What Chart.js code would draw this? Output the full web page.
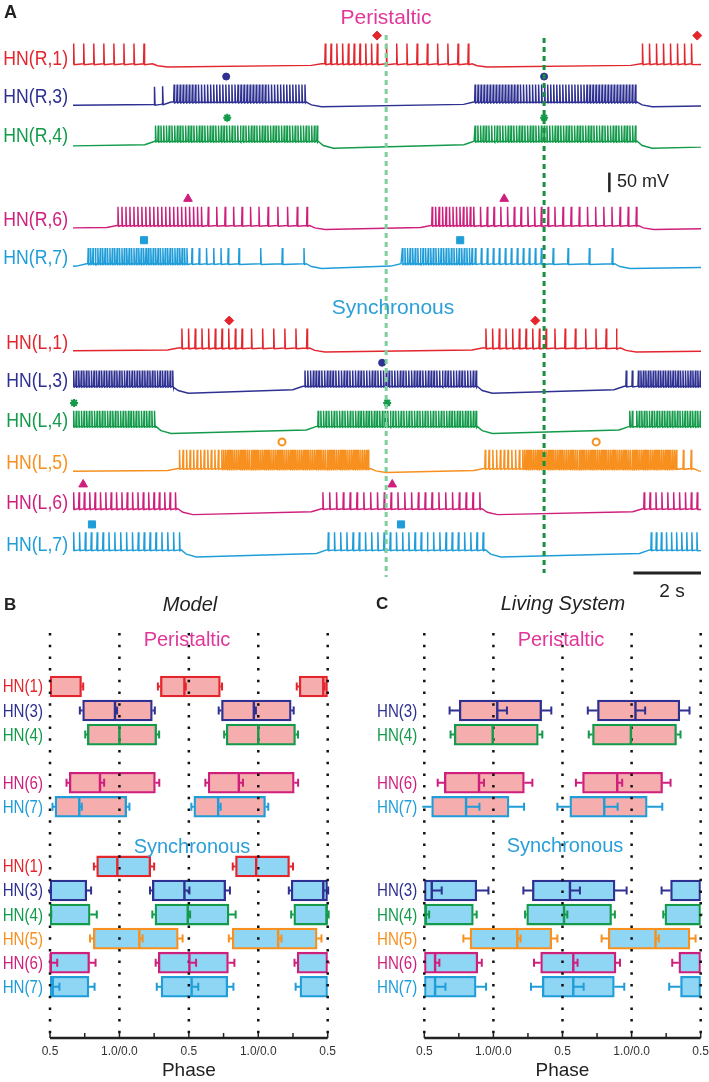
<!DOCTYPE html>
<html>
<head>
<meta charset="utf-8">
<script src="https://cdn.jsdelivr.net/npm/chart.js@4.4.1/dist/chart.umd.min.js"></script>
<style>
  body { margin: 0; background: #fff; width: 709px; height: 1082px; position: relative; overflow: hidden;
         font-family: "Liberation Sans", Arial, sans-serif; }
  canvas { position: absolute; }
  .t { position: absolute; white-space: nowrap; line-height: 1; transform: translate(-50%, -50%); }
  .l { position: absolute; white-space: nowrap; line-height: 1; transform: translateY(-50%); }
  .pink { color: #e2369a; }
  .blue { color: #2a9fd8; }
</style>
</head>
<body>
<canvas id="traces" width="709" height="600" style="left:0;top:0"></canvas>
<canvas id="model" width="355" height="482" style="left:0;top:600px"></canvas>
<canvas id="living" width="354" height="482" style="left:355px;top:600px"></canvas>

<div class="l" style="left:4px;top:12px;font-weight:bold;font-size:18px;color:#222">A</div>
<div class="t pink" style="left:386px;top:16px;font-size:21px">Peristaltic</div>
<div class="l" style="left:617px;top:181px;font-size:18px;color:#222">50 mV</div>
<div class="t blue" style="left:393px;top:306px;font-size:21px">Synchronous</div>
<div class="t" style="left:672px;top:590px;font-size:19px;color:#222">2 s</div>

<div class="l" style="left:4px;top:604px;font-weight:bold;font-size:17px;color:#222">B</div>
<div class="t" style="left:190px;top:604px;font-size:20px;font-style:italic;color:#222">Model</div>
<div class="t pink" style="left:187px;top:639px;font-size:20px">Peristaltic</div>
<div class="t blue" style="left:192px;top:846px;font-size:20px">Synchronous</div>

<div class="l" style="left:376px;top:603px;font-weight:bold;font-size:17px;color:#222">C</div>
<div class="t" style="left:563px;top:603px;font-size:20px;font-style:italic;color:#222">Living System</div>
<div class="t pink" style="left:561px;top:639px;font-size:20px">Peristaltic</div>
<div class="t blue" style="left:565px;top:845px;font-size:20px">Synchronous</div>

<script>
// ---- panel A: voltage traces (time in s, voltage in mV) ----
const T_END = 18.57;
const traceNames = ["HN(R,1)", "HN(R,3)", "HN(R,4)", "HN(R,6)", "HN(R,7)",
                    "HN(L,1)", "HN(L,3)", "HN(L,4)", "HN(L,5)", "HN(L,6)", "HN(L,7)"];
const traceAmp = [52, 45, 40, 48, 40, 50, 40, 40, 48, 42, 45];   // spike height above plateau
const traceDip = [8, 12, 18, 10, 12, 10, 18, 18, 10, 15, 18];     // interburst hyperpolarisation
// depolarised plateau windows [up, down]
const tracePlateaus = [
  [[-1, 2.35], [7.35, 11.8], [16.8, 20]],
  [[2.9, 6.9], [11.85, 16.68]],
  [[2.42, 7.25], [11.86, 16.68]],
  [[1.3, 7.0], [10.58, 16.72]],
  [[0.4, 6.9], [9.7, 16.02]],
  [[3.1, 7.0], [12.1, 16.2]],
  [[-1, 2.96], [6.8, 11.95], [16.3, 20]],
  [[-1, 2.45], [7.2, 11.95], [16.45, 20]],
  [[3.1, 8.8], [12.15, 18.35]],
  [[-1, 3.1], [7.35, 12.1], [16.85, 20]],
  [[-1, 3.2], [7.5, 12.2], [17.05, 20]]
];
// spike groups [first spike, last spike, count]
const traceSpikes = [
  [[0.02, 2.1, 8], [7.46, 9.0, 10], [9.27, 11.69, 9], [16.84, 18.29, 8]],
  [[2.41, 2.65, 2], [2.99, 6.86, 44], [11.89, 16.63, 54]],
  [[2.44, 7.22, 60], [11.89, 16.63, 59]],
  [[1.33, 3.8, 22], [4.0, 5.5, 7], [5.77, 6.92, 5], [10.62, 11.75, 12], [11.85, 14.05, 12], [14.25, 16.66, 11]],
  [[0.45, 3.37, 42], [3.52, 4.59, 6], [4.91, 6.83, 4], [9.74, 11.8, 28], [11.9, 13.85, 12], [14.2, 14.64, 2], [15.27, 15.95, 2]],
  [[3.22, 5.0, 10], [5.28, 6.92, 6], [12.21, 13.99, 10], [14.25, 16.07, 7]],
  [[0.02, 2.95, 40], [6.86, 11.92, 62], [16.36, 16.54, 2], [16.72, 18.55, 26]],
  [[0.02, 2.41, 32], [7.25, 11.92, 60], [16.47, 16.54, 2], [16.67, 18.55, 26]],
  [[3.15, 4.3, 12], [4.4, 8.73, 80], [12.19, 13.2, 10], [13.3, 17.84, 85], [18.05, 18.28, 2]],
  [[0.02, 3.03, 20], [7.39, 12.03, 24], [16.89, 18.46, 10]],
  [[0.02, 3.15, 19], [7.55, 12.13, 26], [17.1, 18.45, 10]]
];
const markerTimes = [[8.99, 18.46], [4.53, 13.93], [4.56, 13.93], [3.40, 12.75], [2.10, 11.45],
                     [4.62, 13.67], [9.14], [0.03, 9.29], [6.18, 15.47], [0.30, 9.44], [0.56, 9.70]];
const phaseLineTimes = [9.26, 13.93];

// ---- panels B and C: phase diagrams (burst start, median spike, burst end, SDs) ----
const modelPeriNames = ["HN(1)", "HN(3)", "HN(4)", "HN(6)", "HN(7)"];
const modelPeriOn  = [0.295, 0.735, 0.769, 0.639, 0.536];
const modelPeriMid = [0.468, 0.968, 1.000, 0.860, 0.711];
const modelPeriOff = [0.727, 1.237, 1.268, 1.259, 1.052];
const modelPeriSd  = [[0.018, 0.01, 0.012], [0.02, 0.015, 0.018], [0.015, 0, 0.018], [0.02, 0.03, 0.028], [0.018, 0.018, 0.02]];

const modelSyncNames = ["HN(1)", "HN(3)", "HN(4)", "HN(5)", "HN(6)", "HN(7)"];
const modelSyncOn  = [0.836, 0.237, 0.256, 0.812, 0.280, 0.300];
const modelSyncMid = [0.985, 0.468, 0.492, 1.143, 0.504, 0.520];
const modelSyncOff = [1.225, 0.765, 0.789, 1.424, 0.785, 0.780];
const modelSyncSd  = [[0.02, 0, 0.025], [0.017, 0.036, 0.031], [0.019, 0.017, 0.048], [0.024, 0.024, 0.031], [0.019, 0.048, 0.043], [0.031, 0.048, 0.041]];

const livingPeriNames = ["HN(3)", "HN(4)", "HN(6)", "HN(7)"];
const livingPeriOn  = [0.753, 0.717, 0.645, 0.553];
const livingPeriMid = [1.028, 0.995, 0.896, 0.802];
const livingPeriOff = [1.349, 1.325, 1.224, 1.113];
const livingPeriSd  = [[0.07, 0.07, 0.07], [0.027, 0, 0.029], [0.048, 0.036, 0.058], [0.09, 0.097, 0.109]];

const livingSyncNames = ["HN(3)", "HN(4)", "HN(5)", "HN(6)", "HN(7)"];
const livingSyncOn  = [0.282, 0.241, 0.831, 0.342, 0.354];
const livingSyncMid = [0.554, 0.511, 1.173, 0.578, 0.578];
const livingSyncOff = [0.880, 0.855, 1.422, 0.887, 0.875];
const livingSyncSd  = [[0.065, 0.072, 0.084], [0.012, 0.024, 0.024], [0.048, 0.024, 0.041], [0.048, 0.031, 0.029], [0.082, 0.075, 0.072]];

const phaseTicks = [0.5, 1.0, 1.5, 2.0, 2.5];
const phaseTickLabels = ["0.5", "1.0/0.0", "0.5", "1.0/0.0", "0.5"];

// ---- styling / layout ----
const hnColors = { "1": "#e3262d", "3": "#2e3192", "4": "#139a4a", "5": "#f7901e", "6": "#cf1f7d", "7": "#1f9dd8" };
const hnMarkers = { "1": "rectRot", "3": "circle", "4": "star", "5": "circle", "6": "triangle", "7": "rect" };
const PERI_FILL = "#f6adad", SYNC_FILL = "#8fd6f5";
const traceRowY = [59, 98, 138, 224, 263, 349, 388, 429, 472, 513, 555]; // plateau pixel rows
const MV_PER_PX = 2.5;
const periSlots = { "HN(1)": 1, "HN(3)": 2, "HN(4)": 3, "HN(6)": 5, "HN(7)": 6 };
const syncSlots = { "HN(1)": 8.48, "HN(3)": 9.48, "HN(4)": 10.48, "HN(5)": 11.48, "HN(6)": 12.48, "HN(7)": 13.48 };
const FONT = '"Liberation Sans", Arial, sans-serif';

const segOf = name => name.match(/(\d)\)$/)[1];

// condensed label, right aligned at x
function narrowText(ctx, text, x, y, squeeze) {
  ctx.save();
  ctx.translate(x, y);
  ctx.scale(squeeze, 1);
  ctx.fillText(text, 0, 0);
  ctx.restore();
}

// ---------- panel A ----------
function baselineKeys(plateaus, dip) {
  const keys = [[-2, -0.8 * dip]];
  plateaus.forEach(([up, down], i) => {
    const prevDown = i > 0 ? plateaus[i - 1][1] : -5;
    if (up - 0.3 > prevDown + 0.6) keys.push([up - 0.3, -0.5 * dip]);
    keys.push([up, 0], [down, 0], [down + 0.15, -0.6 * dip], [down + 0.45, -dip]);
  });
  keys.push([T_END + 2, -0.6 * dip]);
  return keys;
}

function levelAt(keys, t) {
  for (let i = 1; i < keys.length; i++) {
    if (t <= keys[i][0]) {
      const [t0, v0] = keys[i - 1], [t1, v1] = keys[i];
      return v0 + (v1 - v0) * (t - t0) / (t1 - t0);
    }
  }
  return keys[keys.length - 1][1];
}

function spikeTimes(groups) {
  const out = [];
  groups.forEach(([a, b, n]) => {
    for (let j = 0; j < n; j++) out.push(n === 1 ? a : a + (b - a) * j / (n - 1));
  });
  return out;
}

function traceSeries(i) {
  const off = -traceRowY[i] * MV_PER_PX;
  const keys = baselineKeys(tracePlateaus[i], traceDip[i]);
  const pts = keys.map(([t, v]) => ({ x: t, y: off + v }));
  spikeTimes(traceSpikes[i]).forEach(s => {
    const b = off + levelAt(keys, s);
    pts.push({ x: s - 0.013, y: b }, { x: s, y: b + traceAmp[i] }, { x: s + 0.016, y: b - 2 });
  });
  pts.sort((p, q) => p.x - q.x);
  return pts;
}

const traceSets = traceNames.map((name, i) => ({
  data: traceSeries(i),
  borderColor: hnColors[segOf(name)],
  borderWidth: 1.45,
  pointRadius: 0,
  tension: 0
}));

const markerSets = traceNames.map((name, i) => {
  const seg = segOf(name);
  const off = -traceRowY[i] * MV_PER_PX;
  return {
    data: markerTimes[i].map(t => ({ x: t, y: off + traceAmp[i] + 20 })),
    showLine: false,
    clip: false,
    pointStyle: hnMarkers[seg],
    pointRadius: seg === "1" ? 4.5 : seg === "6" ? 5 : seg === "7" ? 5 : seg === "4" ? 4 : 3.5,
    borderWidth: seg === "4" || seg === "5" ? 2 : 1,
    borderColor: hnColors[seg],
    backgroundColor: seg === "5" ? "#fff" : hnColors[seg]
  };
});

const traceDecor = {
  id: "traceDecor",
  afterDatasetsDraw(chart) {
    const { ctx, scales: { x, y } } = chart;
    ctx.save();
    // phase reference lines
    const lines = [{ t: phaseLineTimes[0], c: "#7dcf9e", top: 35, bot: 577 },
                   { t: phaseLineTimes[1], c: "#17903f", top: 38, bot: 573 }];
    lines.forEach(l => {
      const px = x.getPixelForValue(l.t);
      ctx.strokeStyle = l.c; ctx.lineWidth = 3; ctx.setLineDash([5, 4]);
      ctx.beginPath(); ctx.moveTo(px, l.top); ctx.lineTo(px, l.bot); ctx.stroke();
    });
    ctx.setLineDash([]);
    // scale bars
    ctx.strokeStyle = "#222";
    ctx.lineWidth = 2.5;
    const vx = x.getPixelForValue(15.86);
    ctx.beginPath(); ctx.moveTo(vx, y.getPixelForValue(-475)); ctx.lineTo(vx, y.getPixelForValue(-425)); ctx.stroke();
    ctx.lineWidth = 3;
    ctx.beginPath(); ctx.moveTo(x.getPixelForValue(T_END - 2), 573); ctx.lineTo(x.getPixelForValue(T_END), 573); ctx.stroke();
    // row labels
    ctx.font = "21px " + FONT;
    ctx.textAlign = "right"; ctx.textBaseline = "middle";
    traceNames.forEach((name, i) => {
      ctx.fillStyle = hnColors[segOf(name)];
      narrowText(ctx, name, 68, y.getPixelForValue(-traceRowY[i] * MV_PER_PX + 13), 0.84);
    });
    ctx.restore();
  }
};

new Chart(document.getElementById("traces"), {
  type: "line",
  data: { datasets: [...traceSets, ...markerSets] },
  options: {
    responsive: false,
    animation: false,
    events: [],
    layout: { padding: { left: 73, right: 8, top: 0, bottom: 0 } },
    scales: {
      x: { type: "linear", min: 0, max: T_END, display: false },
      y: { type: "linear", min: -1500, max: 0, display: false }
    },
    plugins: { legend: { display: false }, tooltip: { enabled: false } }
  },
  plugins: [traceDecor]
});

// ---------- panels B, C ----------
function makeRows(names, on, mid, off, sd, slots, fill) {
  return names.map((n, i) => ({ name: n, on: on[i], mid: mid[i], off: off[i], sd: sd[i], slot: slots[n], fill }));
}

function phaseChart(id, rows, padLeft, padRight) {
  const boxes = [];
  rows.forEach(r => {
    for (let k = -1; k <= 2; k++) {
      const a = r.on + k, b = r.off + k;
      if (b < 0.5 || a > 2.5) continue;
      boxes.push({ x: [Math.max(a, 0.5), Math.min(b, 2.5)], y: r.slot, c: hnColors[segOf(r.name)], f: r.fill });
    }
  });

  const decor = {
    id: "phaseDecor",
    afterDatasetsDraw(chart) {
      const { ctx, chartArea: area, scales: { x, y } } = chart;
      ctx.save();
      // dotted phase grid
      ctx.strokeStyle = "#111"; ctx.lineWidth = 2.5; ctx.setLineDash([2.5, 9.2]);
      phaseTicks.forEach(v => {
        const px = x.getPixelForValue(v);
        ctx.beginPath(); ctx.moveTo(px, area.top + 1); ctx.lineTo(px, area.bottom); ctx.stroke();
      });
      ctx.setLineDash([]);
      // medians and SD bars
      ctx.beginPath(); ctx.rect(area.left - 2, area.top, area.right - area.left + 4, area.bottom - area.top); ctx.clip();
      rows.forEach(r => {
        const col = hnColors[segOf(r.name)];
        const py = y.getPixelForValue(r.slot);
        ctx.strokeStyle = col;
        for (let k = -1; k <= 2; k++) {
          const a = r.on + k, m = r.mid + k, b = r.off + k;
          if (b < 0.5 || a > 2.5) continue;
          const bars = [[a, a - r.sd[0]], [m, m + r.sd[1]], [b, b + r.sd[2]]];
          ctx.lineWidth = 2;
          bars.forEach(([from, to]) => {
            if (Math.abs(to - from) < 1e-6) return;
            const p0 = x.getPixelForValue(from), p1 = x.getPixelForValue(to);
            ctx.beginPath(); ctx.moveTo(p0, py); ctx.lineTo(p1, py);
            ctx.moveTo(p1, py - 4); ctx.lineTo(p1, py + 4); ctx.stroke();
          });
          if (m >= 0.5 && m <= 2.5) {
            const pm = x.getPixelForValue(m);
            ctx.lineWidth = 2.4;
            ctx.beginPath(); ctx.moveTo(pm, py - 9.5); ctx.lineTo(pm, py + 9.5); ctx.stroke();
          }
        }
      });
      ctx.restore();
    },
    afterDraw(chart) {
      const { ctx, chartArea: area, scales: { x, y } } = chart;
      ctx.save();
      // row labels
      ctx.font = "18px " + FONT; ctx.textAlign = "right"; ctx.textBaseline = "middle";
      rows.forEach(r => {
        ctx.fillStyle = hnColors[segOf(r.name)];
        narrowText(ctx, r.name, area.left - 7, y.getPixelForValue(r.slot) + 1, 0.84);
      });
      // phase axis
      const ay = area.bottom + 4;
      ctx.strokeStyle = "#222"; ctx.lineWidth = 2.5;
      ctx.beginPath(); ctx.moveTo(area.left, ay); ctx.lineTo(area.right, ay); ctx.stroke();
      ctx.lineWidth = 1.5;
      for (let v = 0.5; v <= 2.5001; v += 0.25) {
        const px = x.getPixelForValue(v);
        ctx.beginPath(); ctx.moveTo(px, ay); ctx.lineTo(px, ay - 5); ctx.stroke();
      }
      ctx.fillStyle = "#333"; ctx.font = "12px " + FONT; ctx.textAlign = "center";
      phaseTicks.forEach((v, i) => ctx.fillText(phaseTickLabels[i], x.getPixelForValue(v), area.bottom + 18));
      ctx.fillStyle = "#222"; ctx.font = "19px " + FONT;
      ctx.fillText("Phase", (area.left + area.right) / 2, area.bottom + 37);
      ctx.restore();
    }
  };

  new Chart(document.getElementById(id), {
    type: "bar",
    data: {
      datasets: [{
        data: boxes,
        backgroundColor: c => c.raw.f,
        borderColor: c => c.raw.c,
        borderWidth: 2.3,
        borderSkipped: false,
        barThickness: 21
      }]
    },
    options: {
      indexAxis: "y",
      responsive: false,
      animation: false,
      events: [],
      layout: { padding: { left: padLeft, right: padRight, top: 32, bottom: 48 } },
      scales: {
        x: { type: "linear", min: 0.5, max: 2.5, display: false },
        y: { type: "linear", min: -0.22, max: 14.4, reverse: true, display: false }
      },
      plugins: { legend: { display: false }, tooltip: { enabled: false } }
    },
    plugins: [decor]
  });
}

phaseChart("model", [
  ...makeRows(modelPeriNames, modelPeriOn, modelPeriMid, modelPeriOff, modelPeriSd, periSlots, PERI_FILL),
  ...makeRows(modelSyncNames, modelSyncOn, modelSyncMid, modelSyncOff, modelSyncSd, syncSlots, SYNC_FILL)
], 50, 27.3);

phaseChart("living", [
  ...makeRows(livingPeriNames, livingPeriOn, livingPeriMid, livingPeriOff, livingPeriSd, periSlots, PERI_FILL),
  ...makeRows(livingSyncNames, livingSyncOn, livingSyncMid, livingSyncOff, livingSyncSd, syncSlots, SYNC_FILL)
], 69.3, 8.3);
</script>
</body>
</html>
